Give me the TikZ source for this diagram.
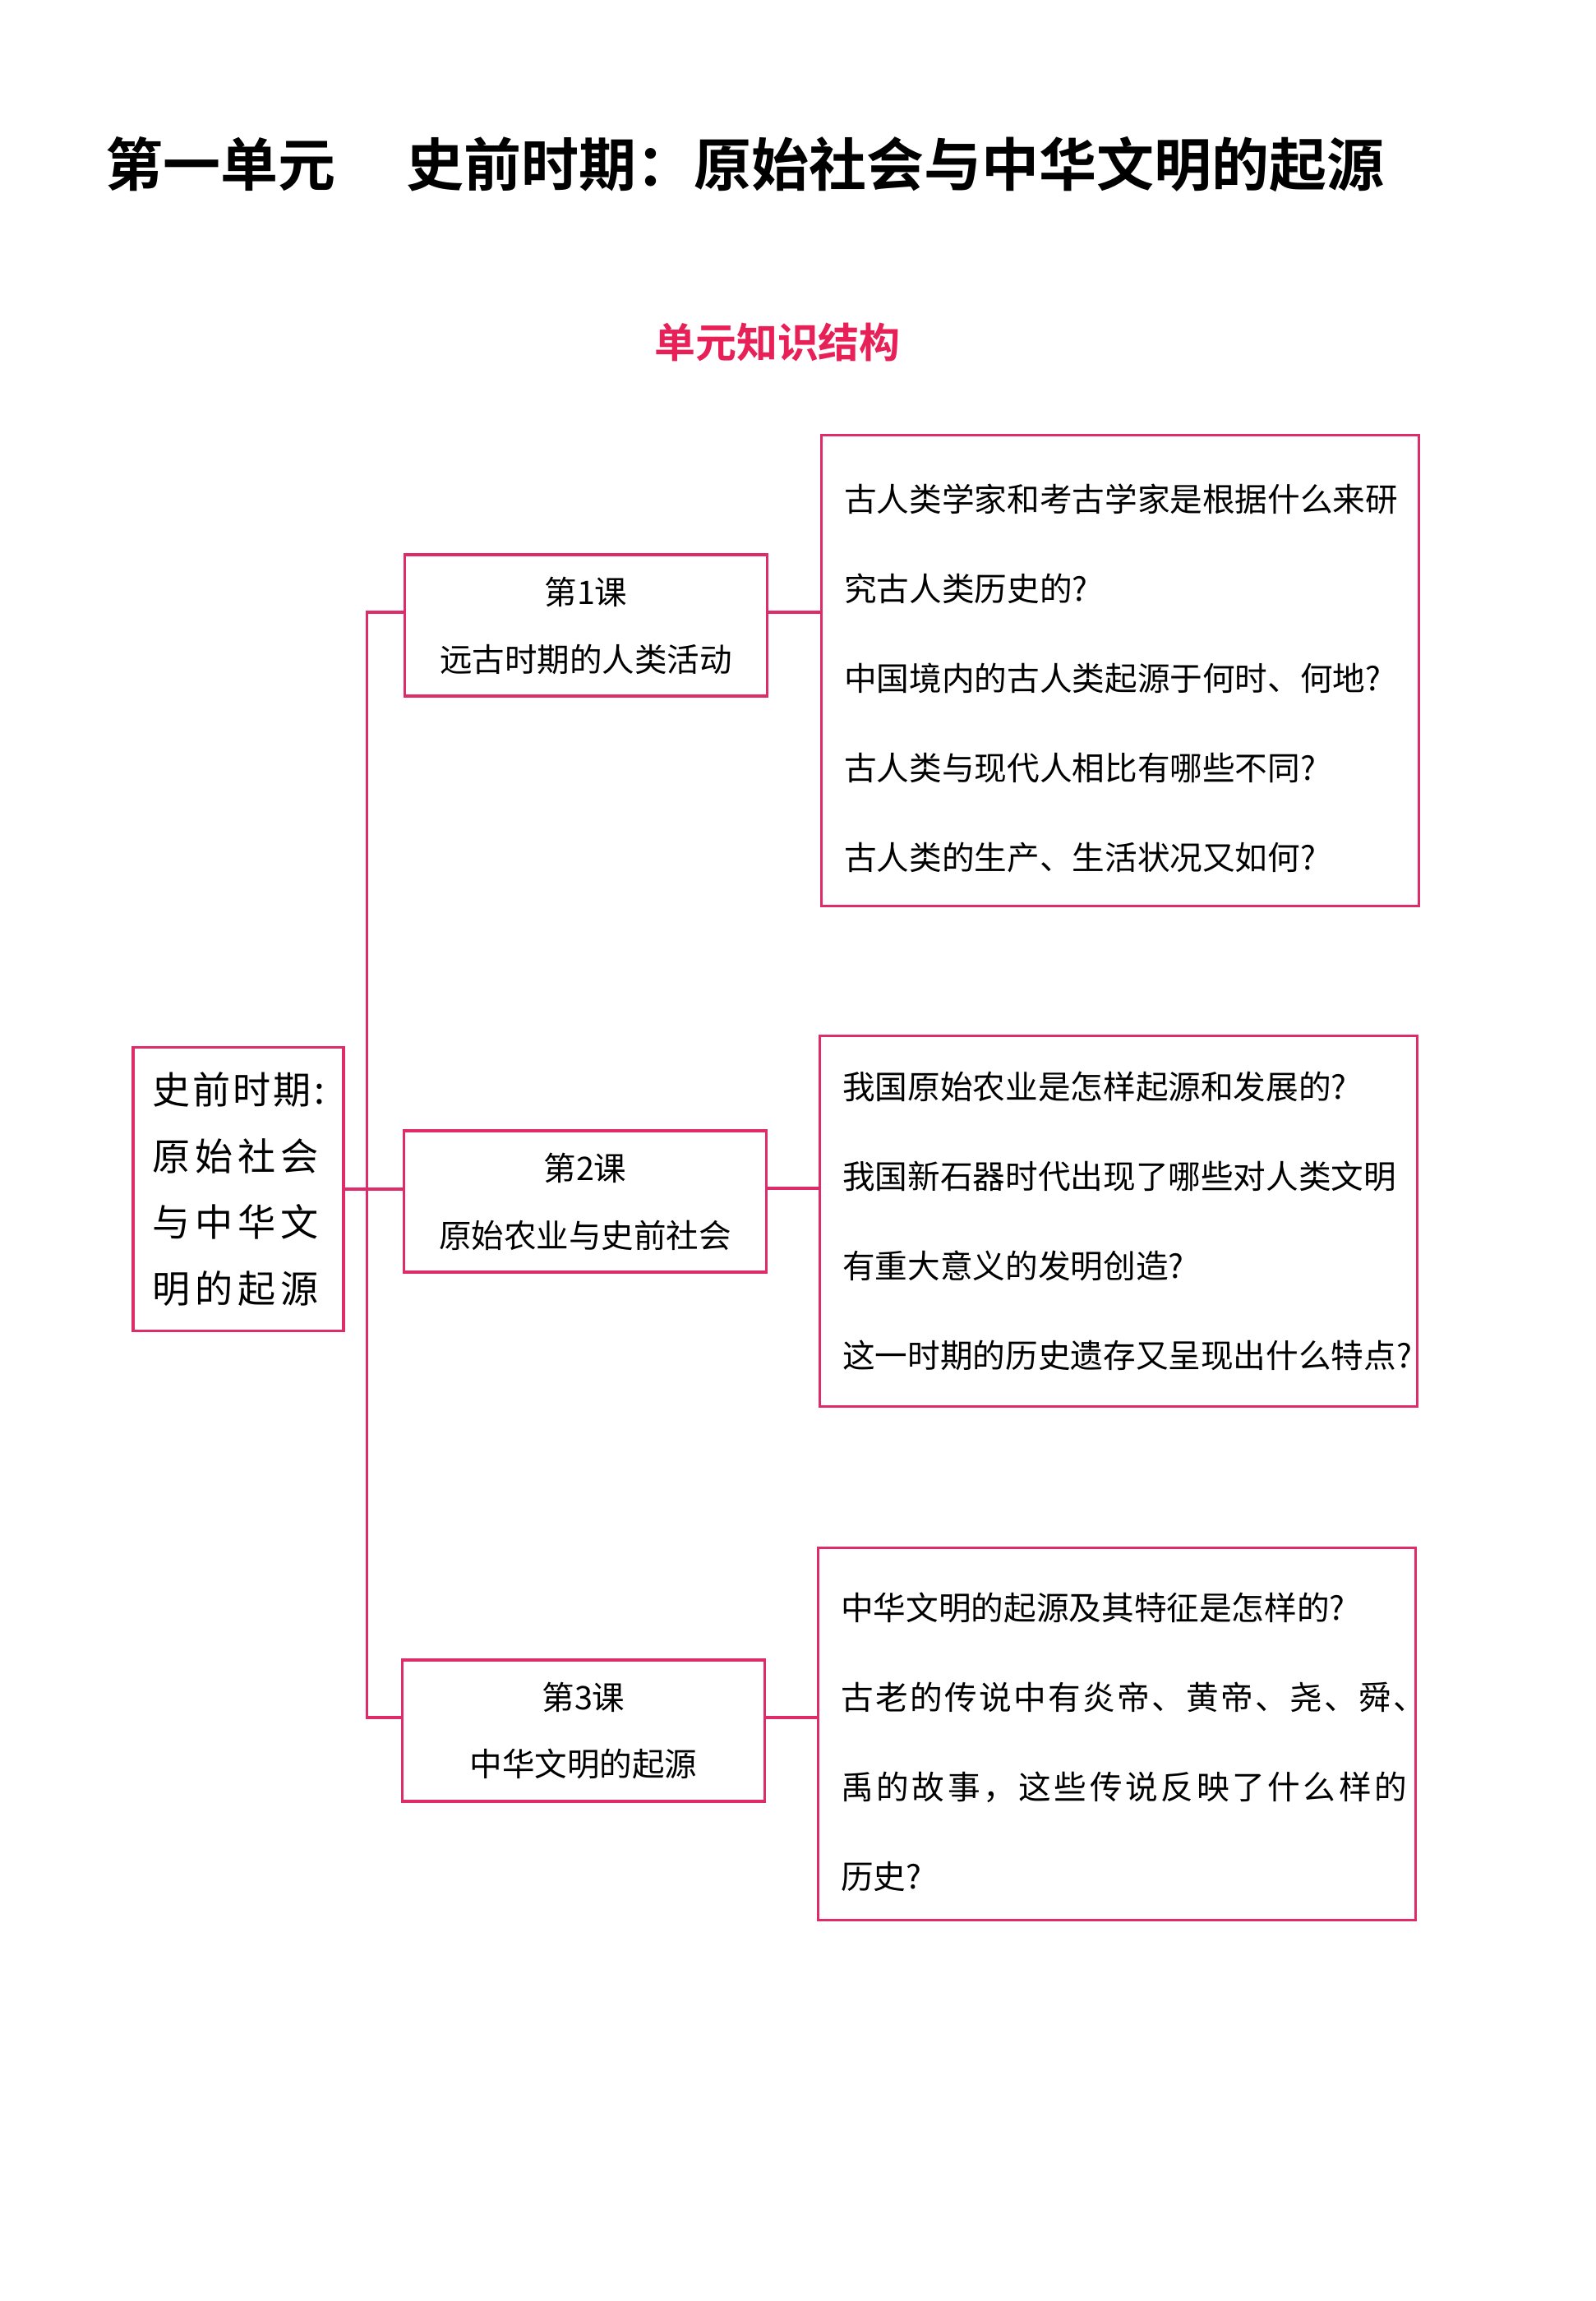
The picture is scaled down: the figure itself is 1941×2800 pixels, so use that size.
\documentclass[tikz,border=0pt]{standalone}
\usepackage{fontspec}
\setmainfont{Noto Sans CJK SC}[BoldFont={Noto Sans CJK SC Bold}]
\usepackage{tikz}
\definecolor{mappink}{RGB}{222,44,106}
\definecolor{headpink}{RGB}{232,32,88}
\tikzset{
  unitbox/.style={rectangle, draw=mappink, line width=0.9pt,
    minimum width=2.56cm, minimum height=3.45cm, align=left, inner sep=0pt,
    font=\fontsize{13.1pt}{23pt}\selectfont\addfontfeatures{LetterSpace=13}},
  lessonbox/.style={rectangle, draw=mappink, line width=0.9pt,
    minimum width=4.41cm, minimum height=1.72cm, align=center,
    font=\fontsize{11.24pt}{23.3pt}\selectfont},
  askbox/.style={rectangle, draw=mappink, line width=0.9pt,
    text width=6.71cm, inner xsep=0.28cm, inner ysep=0pt, align=left,
    font=\fontsize{11.27pt}{31pt}\selectfont},
  link/.style={line width=0.9pt, color=mappink}
}

\begin{document}
\begin{tikzpicture}[x=0.01cm, y=-0.01cm,
  heading/.style={inner sep=0pt, font=\bfseries\fontsize{19.9pt}{24pt}\selectfont},
  subheading/.style={inner sep=0pt, text=headpink, font=\bfseries\fontsize{14.2pt}{17pt}\selectfont}]
  \path[fill=white] (0,0) rectangle (1941,2800);
  % Headings
  \node[heading, anchor=west] (title) at (128,200) {第一单元\hspace{0.86cm}史前时期：原始社会与中华文明的起源};
  \node[subheading] (subtitle) at (946,416) {单元知识结构};
  % Unit
  \node[unitbox] (unit) at (290,1447) {{\addfontfeatures{LetterSpace=7}史前时期:}\\原始社会\\与中华文\\明的起源};
  % Lessons
  \node[lessonbox] (l1) at (713,761) {第1课\\远古时期的人类活动};
  \node[lessonbox] (l2) at (712,1462) {第2课\\原始农业与史前社会};
  \node[lessonbox] (l3) at (710,2106) {第3课\\中华文明的起源};
  % Questions
  \node[askbox, minimum height=5.72cm, text height=15pt] (q1) at (1363,816)
    {古人类学家和考古学家是根据什么来研\\究古人类历史的?\\中国境内的古人类起源于何时、何地?\\古人类与现代人相比有哪些不同?\\古人类的生产、生活状况又如何?};
  \node[askbox, minimum height=4.51cm] (q2) at (1361,1486)
    {我国原始农业是怎样起源和发展的?\\我国新石器时代出现了哪些对人类文明\\有重大意义的发明创造?\\这一时期的历史遗存又呈现出什么特点?};
  \node[askbox, minimum height=4.52cm, text height=15pt] (q3) at (1359,2110)
    {中华文明的起源及其特征是怎样的?\\{\addfontfeatures{LetterSpace=6}古老的传说中有炎帝、黄帝、尧、舜、}\\{\addfontfeatures{LetterSpace=9.2}禹的故事，这些传说反映了什么样的}\\历史?};
  % Spine
  \draw[link] ([yshift=1.6mm]l1.west) -- ++(-0.445cm,0) |- ([yshift=1.6mm]l3.west);
  \draw[link] (unit.east) -- (unit.east -| l2.west);
  % Lessons to questions
  \draw[link] ([yshift=1.6mm]l1.east) -- ([yshift=1.6mm]l1.east -| q1.west);
  \draw[link] ([yshift=1.6mm]l2.east) -- ([yshift=1.6mm]l2.east -| q2.west);
  \draw[link] ([yshift=1.6mm]l3.east) -- ([yshift=1.6mm]l3.east -| q3.west);
\end{tikzpicture}
\end{document}
